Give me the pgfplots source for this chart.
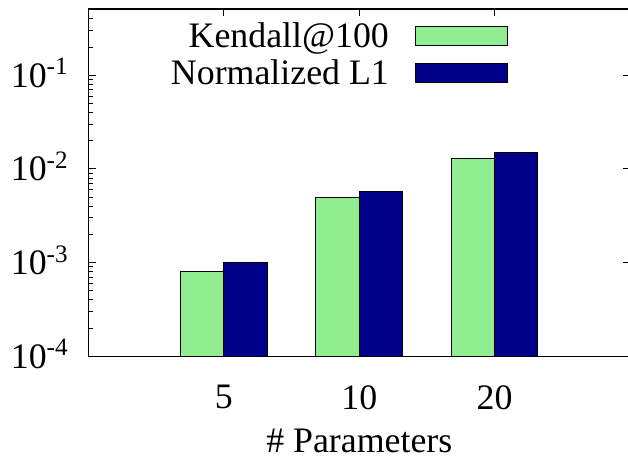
\documentclass[border=0pt]{standalone}
\usepackage{pgfplots}
\pgfplotsset{compat=1.18}
\usepackage{fontspec}
\setmainfont{Liberation Serif}
\definecolor{lgreen}{RGB}{144,238,144}
\definecolor{dblue}{RGB}{0,0,139}
\newcommand{\bigf}{\fontsize{18}{21.6}\selectfont}
\begin{document}
\begin{tikzpicture}
\begin{axis}[
  name=main,
  at={(0,0)}, anchor=south west,
  scale only axis, width=272pt, height=174.5pt,
  xmin=0, xmax=4, ymin=1e-4, ymax=0.51,
  ymode=log, log origin=infty,
  xtick={1,2,3}, xticklabels={5,10,20}, xtick pos=both,
  ytick={1e-4,1e-3,1e-2,1e-1},
  yticklabels={10\textsuperscript{-4},10\textsuperscript{-3},10\textsuperscript{-2},10\textsuperscript{-1}},
  ytick pos=left,
  minor ytick={2e-4,3e-4,4e-4,5e-4,6e-4,7e-4,8e-4,9e-4,2e-3,3e-3,4e-3,5e-3,6e-3,7e-3,8e-3,9e-3,2e-2,3e-2,4e-2,5e-2,6e-2,7e-2,8e-2,9e-2,2e-1,3e-1,4e-1,5e-1},
  tick align=inside,
  major tick length=3.5pt, minor tick length=2pt,
  every tick/.style={black, line width=0.5pt},
  axis line style={line width=0.7pt},
  tick label style={font=\bigf},
  yticklabel style={anchor=base east, xshift=-6.5pt, yshift=-6pt},
  xticklabel style={yshift=-11pt},
  xlabel={\# Parameters},
  xlabel style={font=\bigf, at={(axis description cs:0.5,0)}, anchor=north, yshift=-33pt},
  legend style={at={(rel axis cs:0.787,0.985)}, anchor=north east, draw=none, fill=none, font=\bigf,
    row sep=0.5pt, column sep=11pt},
  legend plot pos=right, legend cell align=right,
]
\addplot[ybar, bar width=0.32, bar shift=-0.16, fill=lgreen, draw=black, line width=0.5pt,
  legend image code/.code={\draw[fill=lgreen, draw=black, line width=0.5pt] (0pt,-4.75pt) rectangle (46.5pt,4.75pt);}]
  coordinates {(1,0.0008) (2,0.005) (3,0.013)};
\addlegendentry{Kendall@100}
\addplot[ybar, bar width=0.32, bar shift=0.16, fill=dblue, draw=black, line width=0.5pt,
  legend image code/.code={\draw[fill=dblue, draw=black, line width=0.5pt] (0pt,-4.75pt) rectangle (46.5pt,4.75pt);}]
  coordinates {(1,0.001) (2,0.0058) (3,0.015)};
\addlegendentry{Normalized L1}
\end{axis}
\begin{axis}[
  at={(0,0)}, anchor=south west,
  scale only axis, width=272pt, height=174.5pt,
  xmin=0, xmax=4, ymin=1e-4, ymax=0.51,
  ymode=log,
  axis y line*=right, axis x line=none,
  y axis line style={draw=none},
  ytick={1e-3,1e-2,1e-1}, yticklabels=\empty,
  yminorticks=false,
  tick align=inside, major tick length=3.5pt,
  major tick style={black, line width=0.5pt},
]
\end{axis}
\pgfresetboundingbox
\path ([xshift=-44.5pt,yshift=-54pt]main.south west) rectangle ([xshift=-1pt,yshift=4.5pt]main.north east);
\end{tikzpicture}
\end{document}
